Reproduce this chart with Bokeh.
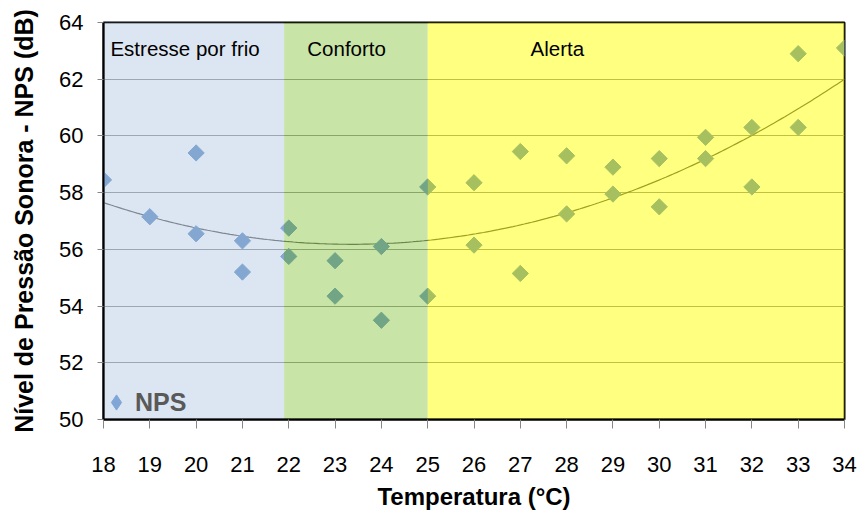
import numpy as np
from bokeh.plotting import figure
from bokeh.models import ColumnDataSource, Label, Legend, LegendItem, FixedTicker, Range1d
from bokeh.embed import file_html
from bokeh.resources import INLINE

# ---- data ----
temperatura = [18, 19, 20, 20, 21, 21, 22, 22, 23, 23, 24, 24, 25, 25, 26, 26,
               27, 27, 28, 28, 29, 29, 30, 30, 31, 31, 32, 32, 33, 33, 34]
nps = [58.45, 57.15, 59.4, 56.55, 56.3, 55.2, 56.75, 55.75, 55.6, 54.35, 56.1, 53.5,
       58.2, 54.35, 58.35, 56.15, 59.45, 55.15, 59.3, 57.25, 58.9, 57.95, 59.2, 57.5,
       59.95, 59.2, 60.3, 58.2, 62.9, 60.3, 63.1]

# polynomial (2nd order) trend line, as read at three temperatures
tendencia_x = [18, 24, 34]
tendencia_y = [57.65, 56.2, 62.0]

zonas = ["Estresse por frio", "Conforto", "Alerta"]
zona_inicio = [18, 21.9, 25]
zona_fim = [21.9, 25, 34]
zona_cores = ["#B9CDE5", "#93C94F", "#FFFF01"]

x_ticks = list(range(18, 35))
y_ticks = list(range(50, 65, 2))

FONT = "Liberation Sans"

p = figure(width=860, height=513, output_backend="svg", toolbar_location=None,
           x_range=Range1d(18, 34), y_range=Range1d(50, 64),
           min_border_left=103, min_border_right=16, min_border_top=22, min_border_bottom=94)
p.background_fill_color = "white"
p.border_fill_color = "white"
p.outline_line_color = "black"
p.outline_line_width = 2

# grid
p.xgrid.visible = False
p.ygrid.grid_line_color = "#808080"
p.ygrid.grid_line_width = 1

# axes
p.xaxis.ticker = FixedTicker(ticks=x_ticks)
p.yaxis.ticker = FixedTicker(ticks=y_ticks)
for ax in (p.xaxis, p.yaxis):
    ax.axis_line_color = "black"
    ax.axis_line_width = 2
    ax.major_tick_line_color = "#868686"
    ax.major_tick_in = 0
    ax.minor_tick_line_color = None
    ax.major_label_text_font = FONT
    ax.major_label_text_font_size = "22px"
    ax.major_label_text_color = "black"
    ax.axis_label_text_font = FONT
    ax.axis_label_text_font_style = "bold"
    ax.axis_label_text_color = "black"
p.xaxis.major_tick_out = 9
p.xaxis.major_label_standoff = 28
p.xaxis.axis_label = "Temperatura (°C)"
p.xaxis.axis_label_text_font_size = "24px"
p.xaxis.axis_label_standoff = 8
p.yaxis.major_tick_out = 6
p.yaxis.major_label_standoff = 14
p.yaxis.axis_label = "Nível de Pressão Sonora - NPS (dB)"
p.yaxis.axis_label_text_font_size = "25px"
p.yaxis.axis_label_standoff = 18

# trend line: quadratic through the read-off trend points
coef = np.polyfit(tendencia_x, tendencia_y, 2)
xt = np.linspace(18, 34, 200)
p.line(xt, np.polyval(coef, xt), line_color="#404040", line_width=1.2)

src = ColumnDataSource(dict(x=temperatura, y=nps))

# legend swatch renderer (tiny, hidden under the first real point)
leg_r = p.scatter("x", "y", source=ColumnDataSource(dict(x=temperatura[:1], y=nps[:1])),
                  marker="diamond", size=1, fill_color="#7FA6D6", line_color="#7FA6D6")

# points
pts = p.scatter("x", "y", source=src, marker="square", angle=np.pi / 4, size=11.5,
                fill_color="#4F81BD", line_color="#4F81BD")

# semi-transparent comfort zones drawn over the points
p.quad(left=zona_inicio, right=zona_fim, bottom=49.9, top=64, fill_color=zona_cores,
       fill_alpha=0.5, line_color=None)

# zone labels
label_x = [18.15, 22.4, 27.22]
for name, lx in zip(zonas, label_x):
    p.add_layout(Label(x=lx, y=63.08, text=name, text_font=FONT, text_font_size="20.5px",
                       text_color="black", text_baseline="middle"))

legend = Legend(items=[LegendItem(label="NPS", renderers=[leg_r])], location=(-6, -2))
legend.background_fill_alpha = 0
legend.border_line_color = None
legend.label_text_font = FONT
legend.label_text_font_size = "25px"
legend.label_text_font_style = "bold"
legend.label_text_color = "#595959"
legend.padding = 5
legend.margin = 0
legend.glyph_width = 38
legend.glyph_height = 38
legend.label_standoff = 0
p.add_layout(legend, "center")

open("out.html", "w").write(file_html(p, INLINE))
